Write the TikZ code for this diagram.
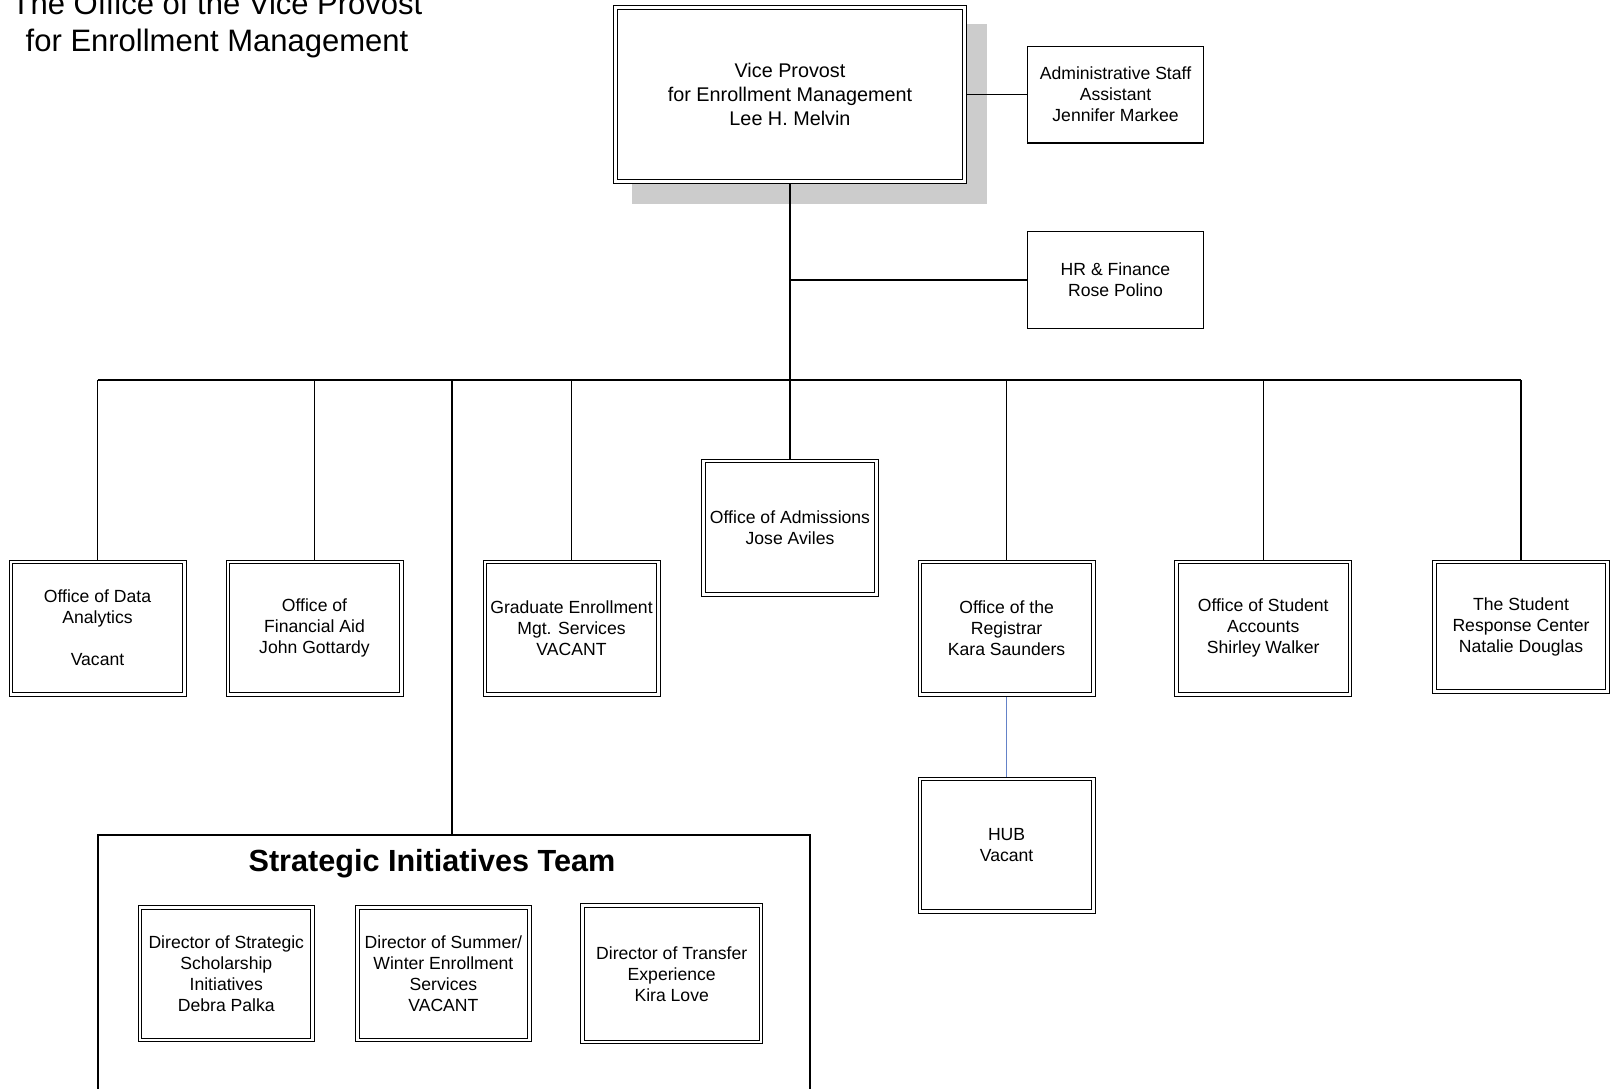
\documentclass[tikz,border=0pt]{standalone}
\usepackage{fontspec}
\setmainfont{Liberation Sans}
\usetikzlibrary{calc}
\definecolor{shadegray}{RGB}{204,204,204}
\definecolor{hubblue}{RGB}{100,130,200}
\pgfdeclarelayer{shadowlayer}
\pgfdeclarelayer{connlayer}
\pgfsetlayers{shadowlayer,connlayer,main}
\newcommand\boxfnt{\fontsize{17.6}{21}\selectfont}
\begin{document}
\begin{tikzpicture}[x=1pt,y=-1pt,
  dbox/.style={draw, line width=1pt, double, double distance=2.6pt, fill=white,
    align=center, font=\boxfnt, inner sep=0pt,
    minimum width=173.4, minimum height=132.4},
  sbox/.style={draw, line width=1.3pt, fill=white, align=center, font=\boxfnt,
    inner sep=0pt, minimum width=175.7, minimum height=96.7},
  conn/.style={draw=black, line width=1.2pt},
  hubconn/.style={draw=hubblue, line width=1.2pt}]
\useasboundingbox (0,0) rectangle (1613,1088);
\clip (0,0) rectangle (1613,1088);

% title
\node[align=center, font=\fontsize{31}{36.5}\selectfont, inner sep=0pt] (title) at (217,25)
  {The Office of the Vice Provost\\for Enrollment Management};

% top level
\node[dbox, minimum width=349.4, minimum height=174.4, font=\fontsize{19.8}{24}\selectfont] (vp) at (790,94.5)
  {Vice Provost\\for Enrollment Management\\Lee H. Melvin};
\node[sbox] (admin) at (1115.5,94.5) {Administrative Staff\\Assistant\\Jennifer Markee};
\node[sbox] (hr) at (1115.5,280) {HR \& Finance\\Rose Polino};

% second row
\node[dbox] (data) at (97.5,628) {Office of Data\\Analytics\\[21pt]Vacant};
\node[dbox] (finaid) at (314.5,628) {Office of\\Financial Aid\\John Gottardy};
\node[dbox] (grad) at (571.5,628) {Graduate Enrollment\\Mgt. Services\\VACANT};
\node[dbox, minimum height=133.4] (adm) at (790,527.7) {Office of Admissions\\Jose Aviles};
\node[dbox] (reg) at (1006.6,628) {Office of the\\Registrar\\Kara Saunders};
\node[dbox] (acct) at (1263.2,628) {Office of Student\\Accounts\\Shirley Walker};
\node[dbox, minimum height=129.4] (resp) at (1521,626.5) {The Student\\Response Center\\Natalie Douglas};
\node[dbox] (hub) at (1006.6,845) {HUB\\Vacant};

% strategic initiatives team
\node[draw, line width=1.3pt, minimum width=712, minimum height=275, inner sep=0pt] (team) at (454,972.5) {};
\node[font=\fontsize{30.6}{36}\selectfont\bfseries, inner sep=0pt] (teamtitle) at (432,864) {Strategic Initiatives Team};
\node[dbox, minimum width=172.4] (dir1) at (226.3,973.8) {Director of Strategic\\Scholarship\\Initiatives\\Debra Palka};
\node[dbox, minimum width=172.4] (dir2) at (443.4,973.8) {Director of Summer/\\Winter Enrollment\\Services\\VACANT};
\node[dbox, minimum width=178.4, minimum height=136.4] (dir3) at (671.7,973.7) {Director of Transfer\\Experience\\Kira Love};

\coordinate (bus) at (790,380);
\coordinate (teamdrop) at (452,380);

\begin{pgfonlayer}{shadowlayer}
  \fill[shadegray] ($(vp.south west)+(16.7,21.3)$) rectangle ($(vp.north east)+(21.3,16.7)$);
\end{pgfonlayer}

\begin{pgfonlayer}{connlayer}
  \draw[conn] (vp.east) -- (admin.west);
  \draw[conn] (vp.south) -- (bus);
  \draw[conn] (hr.west) -- (hr.west -| vp.south);
  \draw[conn] (data.north |- bus) -- (resp.north |- bus);
  \foreach \n in {data,finaid,grad,adm,reg,acct,resp}
    \draw[conn] (\n.north) -- (\n.north |- bus);
  \draw[conn] (teamdrop) -- (teamdrop |- team.north);
  \draw[hubconn] (reg.south) -- (hub.north);
\end{pgfonlayer}
\end{tikzpicture}
\end{document}
